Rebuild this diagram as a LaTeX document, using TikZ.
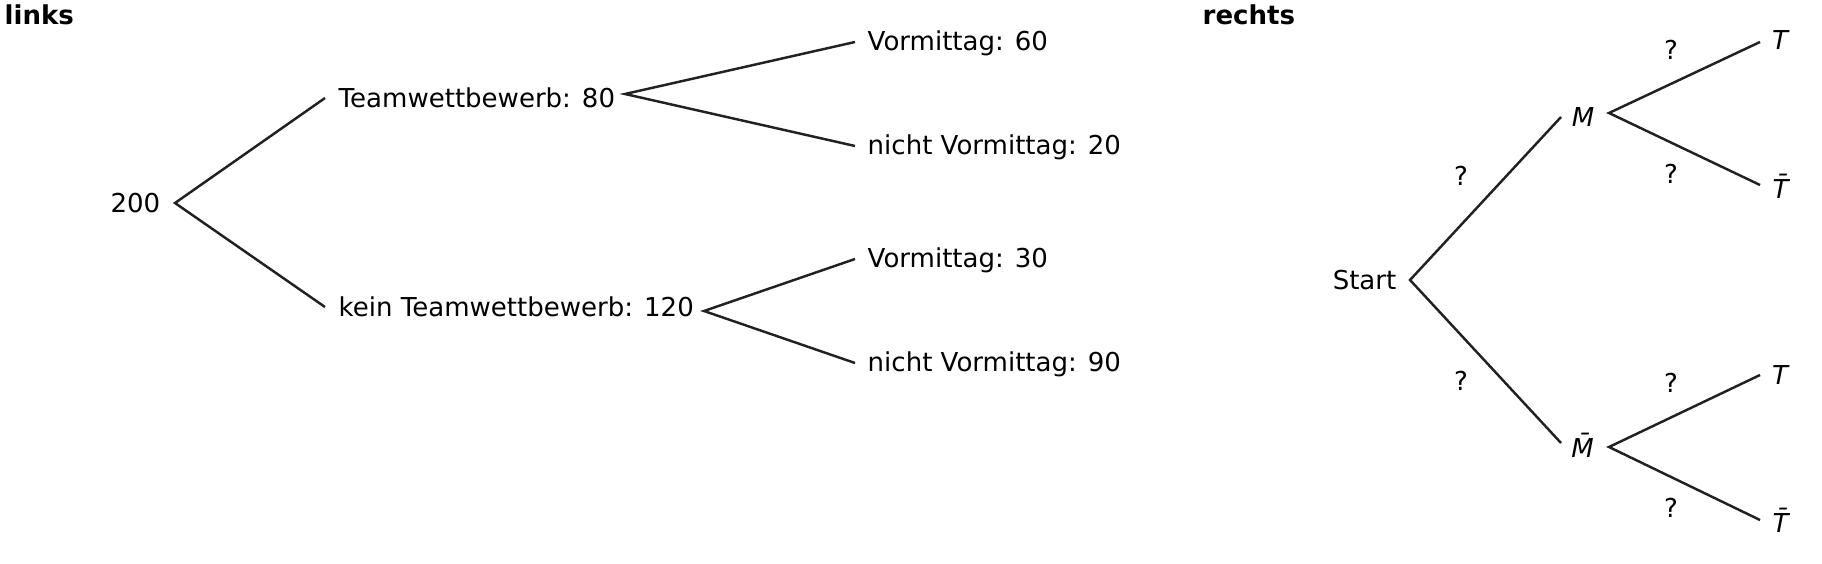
\documentclass[tikz,border=0pt]{standalone}
\usepackage{fontspec}
\setmainfont{DejaVu Sans}
\begin{document}
\begin{tikzpicture}[x=0.01cm,y=-0.01cm,
    lbl/.style={anchor=west,inner sep=0pt,font=\fontsize{7.4}{8}\selectfont},
    ttl/.style={anchor=west,inner sep=0pt,font=\fontsize{7.4}{8}\selectfont\bfseries},
    q/.style={inner sep=0pt,font=\fontsize{7.4}{8}\selectfont},
    br/.style={draw=black!87,line width=0.7pt}]
\useasboundingbox (0,0) rectangle (1822,564);
% left tree
\node[ttl] (links) at (4,15) {links};
\node[lbl,anchor=east] (root) at (161,203) {200};
\coordinate (r0) at (175,203);
\node[lbl] (team) at (338,98) {Teamwettbewerb: 80};
\node[lbl] (kein) at (338,307) {kein Teamwettbewerb: 120};
\coordinate (t1) at (325,98);
\coordinate (k1) at (325,307);
\coordinate (t0) at (625,94);
\coordinate (k0) at (704,311);
\node[lbl] (v1) at (867,43) {Vormittag: 60};
\node[lbl] (n1) at (867,147) {nicht Vormittag: 20};
\node[lbl] (v2) at (867,260) {Vormittag: 30};
\node[lbl] (n2) at (867,364) {nicht Vormittag: 90};
\coordinate (v1e) at (855,42);
\coordinate (n1e) at (855,146);
\coordinate (v2e) at (855,259);
\coordinate (n2e) at (855,363);
\draw[br] (t1) -- (r0) -- (k1);
\draw[br] (v1e) -- (t0) -- (n1e);
\draw[br] (v2e) -- (k0) -- (n2e);
% right tree
\node[ttl] (rechts) at (1202,15) {rechts};
\node[lbl,anchor=east] (start) at (1397,280) {Start};
\coordinate (s0) at (1410,280);
\node[lbl,anchor=center] (M) at (1583,117) {\textit{M}};
\node[lbl,anchor=center] (Mq) at (1583,445) {\textit{\=M}};
\coordinate (m1) at (1561,117);
\coordinate (mq1) at (1561,443);
\coordinate (m0) at (1609,113);
\coordinate (mq0) at (1609,447);
\node[lbl,anchor=center] (T1) at (1781,40) {\textit{T}};
\node[lbl,anchor=center] (Tq1) at (1781,186) {\textit{\=T}};
\node[lbl,anchor=center] (T2) at (1781,375) {\textit{T}};
\node[lbl,anchor=center] (Tq2) at (1781,520) {\textit{\=T}};
\coordinate (a1) at (1760,42);
\coordinate (a2) at (1760,185);
\coordinate (a3) at (1760,375);
\coordinate (a4) at (1760,520);
\draw[br] (m1) -- (s0) -- (mq1);
\draw[br] (a1) -- (m0) -- (a2);
\draw[br] (a3) -- (mq0) -- (a4);
\node[q] (q1) at (1461,176) {?};
\node[q] (q2) at (1461,381) {?};
\node[q] (q3) at (1671,50) {?};
\node[q] (q4) at (1671,174) {?};
\node[q] (q5) at (1671,383) {?};
\node[q] (q6) at (1671,508) {?};
\end{tikzpicture}
\end{document}
